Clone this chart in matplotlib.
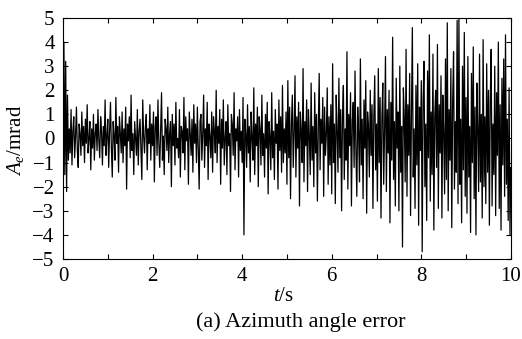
import numpy as np
import matplotlib
matplotlib.use("Agg")
import matplotlib.pyplot as plt
from matplotlib.ticker import MultipleLocator

plt.rcParams['font.family'] = 'Liberation Serif'
plt.rcParams['mathtext.fontset'] = 'custom'
plt.rcParams['mathtext.rm'] = 'Liberation Serif'
plt.rcParams['mathtext.it'] = 'Liberation Serif:italic'

# azimuth angle error (mrad), one row per second, dt = 0.02 s
err_0s = [-3.0, 4.0, -1.5, 3.2, -2.2, 1.8, -0.9, 0.4, -0.6, 1.2, -1.1, 0.3, 0.9, -0.8, 0.1, 1.3, -0.5, -1.2, 0.6, 0.2,
          -0.7, 1.1, -0.3, 0.5, -1.0, 0.8, -0.2, 1.4, -0.6, 0.0, 0.7, -1.3, 0.4, -0.4, 1.0, -0.9, 0.2, 0.6, -0.5, 1.2,
          -0.1, -0.8, 0.9, 0.3, -1.1, 0.5, -0.3, 1.6, -0.7, 0.1]
err_1s = [0.8, -1.2, 0.3, 1.5, -0.4, -1.6, 0.7, 0.1, -0.9, 1.7, -0.2, 0.5, -1.4, 0.9, 0.2, -0.6, 1.1, -1.0, 0.4, -0.3,
          1.3, -2.1, 0.6, -0.1, 0.9, -0.8, 1.8, -0.5, 0.2, -1.5, 0.7, 0.0, -0.7, 1.2, -1.1, 0.3, 0.8, -0.4, -1.7, 1.6,
          0.1, -0.6, 0.5, 1.0, -1.3, 0.4, -0.2, 1.4, -0.9, 0.6]
err_2s = [-0.3, 1.1, -1.8, 0.5, 0.9, -0.7, 1.6, -0.2, -1.2, 0.3, 1.9, -0.9, 0.1, -1.5, 0.8, 0.4, -0.5, 1.3, -1.0, 0.2,
          0.7, -2.0, 1.0, -0.3, 0.6, -1.1, 1.5, -0.4, 0.0, -0.8, 1.2, -1.6, 0.5, 0.3, -0.6, 1.7, -1.3, 0.9, -0.1, 0.4,
          -1.9, 1.1, 0.2, -0.7, 0.8, -1.4, 1.4, -0.2, 0.6, -1.0]
err_3s = [1.3, -0.5, -2.1, 0.7, 1.0, -0.9, 0.2, 1.8, -1.2, 0.4, -0.3, 1.5, -1.7, 0.6, 0.1, -0.8, 1.1, -1.4, 0.9, 0.3,
          -0.6, 2.0, -1.0, 0.5, -0.2, 1.2, -1.9, 0.8, -0.4, 1.6, -1.1, 0.0, 0.7, -1.5, 1.4, -0.3, 0.2, -2.2, 1.0, 0.6,
          -0.7, 1.9, -1.3, 0.4, -0.1, 0.9, -1.6, 1.2, -0.5, 0.3]
err_4s = [-1.0, 1.7, -4.0, 0.8, 0.2, -1.2, 1.4, -0.6, 0.5, -1.8, 1.1, 0.0, -0.9, 2.1, -1.5, 0.6, -0.3, 1.3, -2.0, 0.9,
          0.4, -1.1, 1.8, -0.7, 0.2, -1.6, 1.0, -0.4, 1.5, -2.3, 0.7, 0.1, -1.3, 1.9, -0.8, 0.3, -1.7, 1.2, -0.2, 0.6,
          -2.1, 1.6, -0.5, 0.9, -1.4, 2.2, -1.0, 0.4, -0.6, 1.1]
err_5s = [-1.9, 2.4, -0.8, 1.3, -2.5, 0.6, 1.8, -1.2, 0.2, 2.6, -1.6, 0.9, -0.4, 1.5, -2.8, 1.1, 0.3, -1.0, 2.9, -1.8,
          0.7, -0.3, 1.6, -2.2, 1.2, 0.1, -1.5, 2.3, -0.9, 0.5, -2.0, 1.9, -0.6, 1.0, -2.6, 0.4, 2.7, -1.3, 0.8, -0.2,
          1.7, -2.4, 1.3, -0.7, 0.2, 2.1, -1.9, 0.9, -1.1, 1.4]
err_6s = [-2.3, 3.1, -1.0, 0.6, -2.7, 1.8, 0.3, -1.4, 2.5, -0.8, 1.2, -3.0, 0.9, 2.2, -1.7, 0.4, -0.9, 3.6, -2.1, 1.0,
          -0.3, 1.9, -2.8, 0.7, 1.5, -1.2, 2.8, -0.5, -2.4, 1.3, 0.2, -1.8, 3.3, -1.1, 0.8, -2.5, 1.6, -0.4, 2.4, -3.1,
          1.1, 0.5, -1.6, 2.0, -0.7, 1.4, -2.9, 0.9, 2.6, -1.3]
err_7s = [0.6, -2.6, 2.9, -1.0, 1.7, -3.3, 0.8, 2.3, -1.9, 0.3, 3.4, -2.2, 1.2, -0.6, 2.0, -3.5, 1.5, -0.9, 4.2, -1.7,
          0.7, -2.8, 2.5, -0.4, 1.1, -3.0, 3.0, -1.4, 0.5, -4.5, 2.1, 0.9, -1.8, 3.7, -2.4, 1.4, -0.7, 2.7, -3.2, 1.0,
          4.6, -1.6, 0.4, -2.9, 2.2, -1.1, 3.1, -3.6, 1.3, -0.5]
err_8s = [2.4, -4.7, 1.6, 3.2, -2.0, 0.6, -3.4, 2.8, -0.8, 4.3, -2.6, 1.1, -1.5, 3.5, -3.8, 0.9, 2.0, -1.2, 3.9, -2.9,
          1.4, -0.6, 2.6, -3.3, 1.8, 0.2, -2.3, 3.3, -1.7, 4.8, -3.0, 1.2, -0.9, 2.9, -3.7, 1.5, 3.6, -2.1, 0.7, -1.4,
          4.9, -2.7, 5.0, -1.9, 0.8, -3.5, 3.0, -1.3, 4.4, -2.4]
err_9s = [1.7, -3.1, 3.4, -1.6, 0.5, -3.9, 2.7, -1.0, 3.8, -2.5, 1.3, -4.0, 2.3, 0.4, -2.2, 3.5, -1.8, 1.0, -3.3, 4.1,
          -2.0, 0.9, -2.7, 3.1, -1.4, 2.0, -3.6, 1.6, 3.7, -2.8, 0.6, -1.5, 3.0, -3.2, 1.9, -0.7, 4.0, -2.9, 1.4, -3.8,
          2.5, -1.1, 3.3, -2.4, 4.3, -1.9, 0.8, -3.4, 2.1, -4.0]
err_end = [-1.2]

err = np.array(err_0s + err_1s + err_2s + err_3s + err_4s + err_5s + err_6s + err_7s + err_8s + err_9s + err_end)
t = np.linspace(0, 10, len(err))

fig = plt.figure(figsize=(5.22, 3.39), dpi=100)
ax = fig.add_axes([0.1207, 0.236, 0.858, 0.711])
ax.plot(t, err, color='black', lw=0.9)

ax.set_xlim(0, 10)
ax.set_ylim(-5, 5)
ax.xaxis.set_major_locator(MultipleLocator(2))
ax.xaxis.set_minor_locator(MultipleLocator(1))
ax.yaxis.set_major_locator(MultipleLocator(1))
ax.tick_params(which='both', direction='in', top=True, right=True, labelsize=15, width=0.8, length=3.5)
ax.tick_params(axis='x', pad=6)
ax.tick_params(axis='y', pad=6)
for sp in ax.spines.values():
    sp.set_linewidth(0.8)

ax.set_xlabel('$t$/s', fontsize=15, va='center')
ax.xaxis.set_label_coords(0.493, -0.154)
ax.set_ylabel('$A_e$/mrad', fontsize=15, va='center')
ax.yaxis.set_label_coords(-0.107, 0.494)
fig.text(0.577, 0.050, '(a) Azimuth angle error', ha='center', va='center', fontsize=16)

fig.savefig('out.png', dpi=100)
